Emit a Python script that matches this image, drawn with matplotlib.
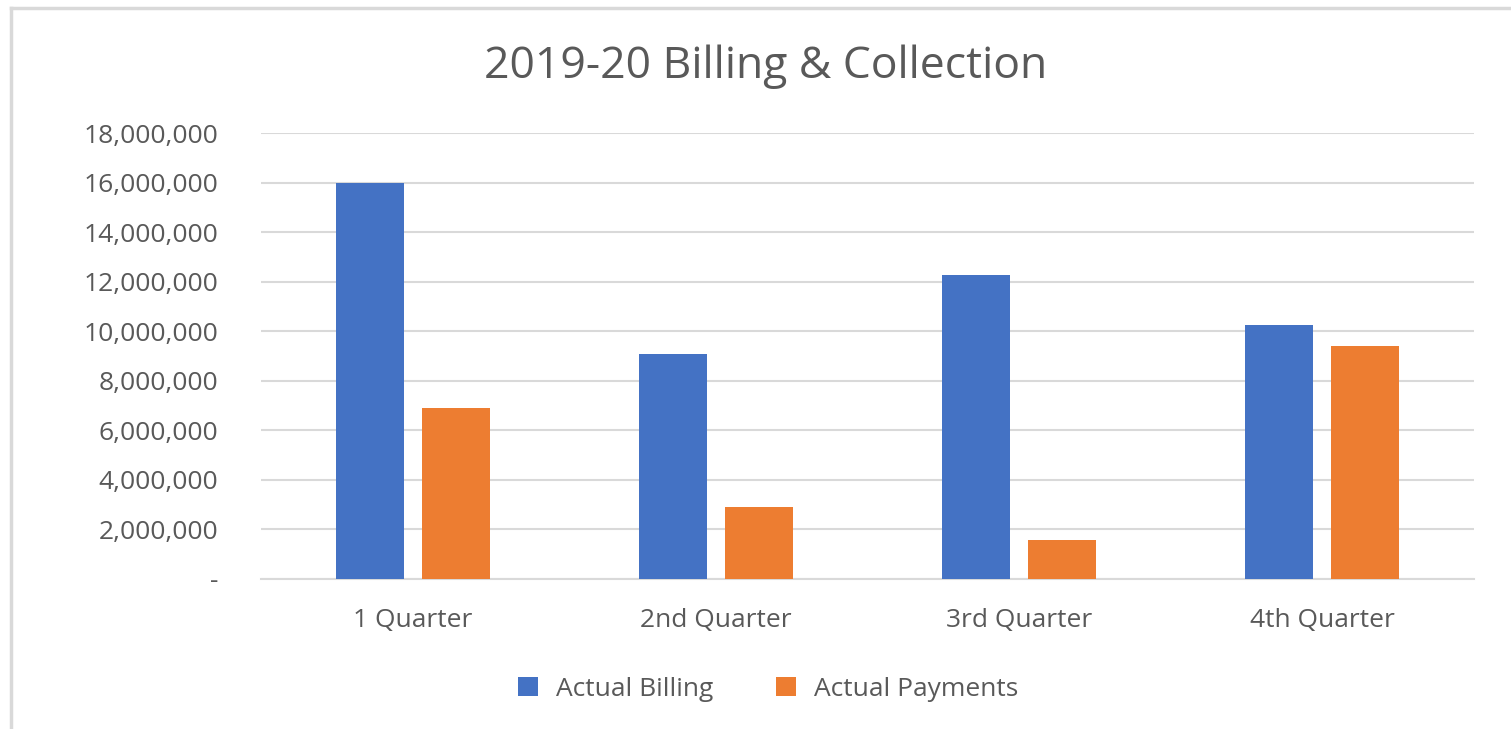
import numpy as np
import matplotlib.pyplot as plt
from matplotlib.lines import Line2D
from matplotlib.ticker import FuncFormatter

# values
quarters = ['1 Quarter', '2nd Quarter', '3rd Quarter', '4th Quarter']
actual_billing = [16000000, 9070000, 12260000, 10250000]
actual_payments = [6900000, 2920000, 1570000, 9400000]

plt.rcParams['font.family'] = ['Open Sans', 'DejaVu Sans']
text_col = '#595959'
blue = '#4472C4'
orange = '#ED7D31'

fig = plt.figure(figsize=(15.11, 7.29), dpi=100)
ax = fig.add_axes([261 / 1511, 1 - 579 / 729, (1474 - 261) / 1511, (579 - 133) / 729])

x = np.arange(len(quarters))
w = 0.224
off = 0.142
ax.bar(x - off, actual_billing, w, color=blue, label='Actual Billing', zorder=3)
ax.bar(x + off, actual_payments, w, color=orange, label='Actual Payments', zorder=3)

ax.set_xlim(-0.5, 3.5)
ax.set_ylim(0, 18000000)
ax.set_yticks(np.arange(0, 18000001, 2000000))
ax.yaxis.set_major_formatter(FuncFormatter(lambda v, p: '-' if v == 0 else f'{int(v):,}'))
ax.set_xticks(x)
ax.set_xticklabels(quarters)

ax.grid(axis='y', color='#d9d9d9', linewidth=1.5, zorder=0)
for s in ['top', 'right', 'left']:
    ax.spines[s].set_visible(False)
ax.spines['bottom'].set_color('#d9d9d9')
ax.spines['bottom'].set_linewidth(1.5)
ax.tick_params(axis='both', length=0, labelsize=19, colors=text_col)
ax.tick_params(axis='y', pad=31)
ax.tick_params(axis='x', pad=21)

fig.text(766 / 1511, 1 - 67 / 729, '2019-20 Billing & Collection', ha='center', va='center',
         fontsize=32, color=text_col)

leg = fig.legend(loc='center', bbox_to_anchor=(768 / 1511, 1 - 689 / 729), ncol=2, frameon=False,
                 fontsize=19, handlelength=0.76, handleheight=0.76, columnspacing=2.35,
                 handletextpad=0.68)
for t in leg.get_texts():
    t.set_color(text_col)

# outer chart border
fig.add_artist(Line2D([10.5 / 1511, 10.5 / 1511], [0, 1 - 7.5 / 729], color='#d9d9d9', lw=2.5))
fig.add_artist(Line2D([10.5 / 1511, 1], [1 - 7.5 / 729, 1 - 7.5 / 729], color='#d9d9d9', lw=2.5))

fig.savefig('out.png', dpi=100)
